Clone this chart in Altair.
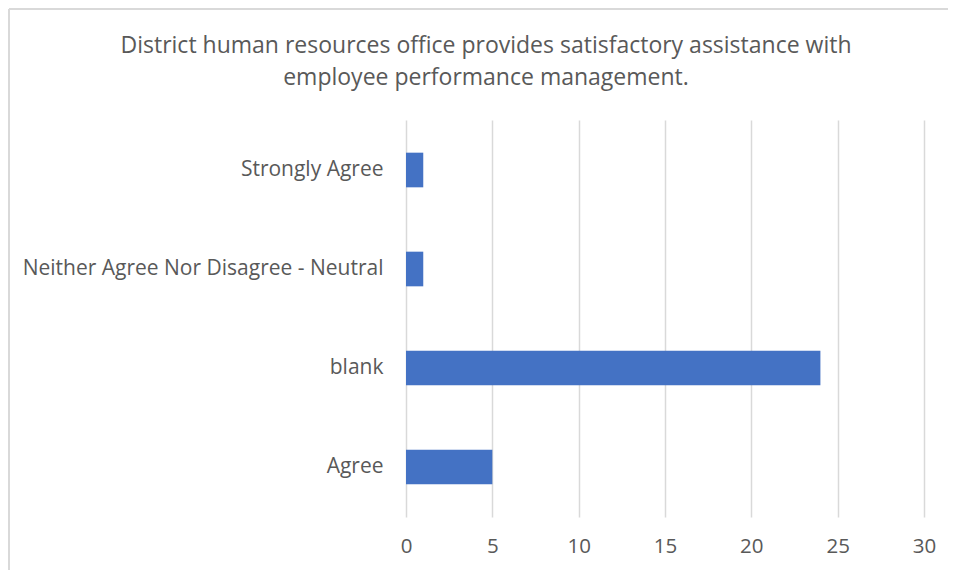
import altair as alt
import pandas as pd

categories = ["Strongly Agree", "Neither Agree Nor Disagree - Neutral", "blank", "Agree"]
counts = [1, 1, 24, 5]
x_ticks = [0, 5, 10, 15, 20, 25, 30]
title_text = ("District human resources office provides satisfactory assistance with\n"
              "employee performance management.")

df = pd.DataFrame({"category": categories, "count": counts})

FONT = "Open Sans"
GREY = "#595959"

bars = alt.Chart(df).mark_bar(color="#4472C4").encode(
    x=alt.X("count:Q",
            scale=alt.Scale(domain=[0, 30], nice=False),
            axis=alt.Axis(values=x_ticks, title=None, domain=False, ticks=False,
                          labelFlush=False, labelOverlap=False,
                          labelPadding=19, labelFontSize=20.5, labelColor=GREY,
                          labelFont=FONT, gridColor="#d9d9d9", gridWidth=1.5)),
    y=alt.Y("category:N", sort=categories,
            scale=alt.Scale(paddingInner=0.65, paddingOuter=0.33),
            axis=alt.Axis(title=None, domain=False, ticks=False, grid=False,
                          labelPadding=23, labelFontSize=21, labelColor=GREY,
                          labelFont=FONT, labelLimit=500)),
)

base = alt.Chart(pd.DataFrame({"a": [0]}))

border_left = base.mark_rule(color="#d9d9d9", strokeWidth=2, clip=False).encode(
    x=alt.value(-397), y=alt.value(-111), y2=alt.value(452)
)
border_top = base.mark_rule(color="#d9d9d9", strokeWidth=2, clip=False).encode(
    x=alt.value(-397), x2=alt.value(542), y=alt.value(-111)
)

title = base.mark_text(
    font=FONT, fontSize=23, color=GREY, align="center", baseline="middle",
    lineBreak="\n", lineHeight=32, text=title_text,
).encode(
    x=alt.value(80),
    y=alt.value(-74),
)

chart = alt.layer(border_left, border_top, bars, title).properties(
    width=518,
    height=397,
    autosize=alt.AutoSizeParams(type="none"),
    padding={"left": 398, "top": 112, "right": 24, "bottom": 53},
    background="white",
).configure_view(strokeWidth=0, stroke="transparent")

chart.save("out.html", embed_options={"renderer": "svg", "actions": False})
